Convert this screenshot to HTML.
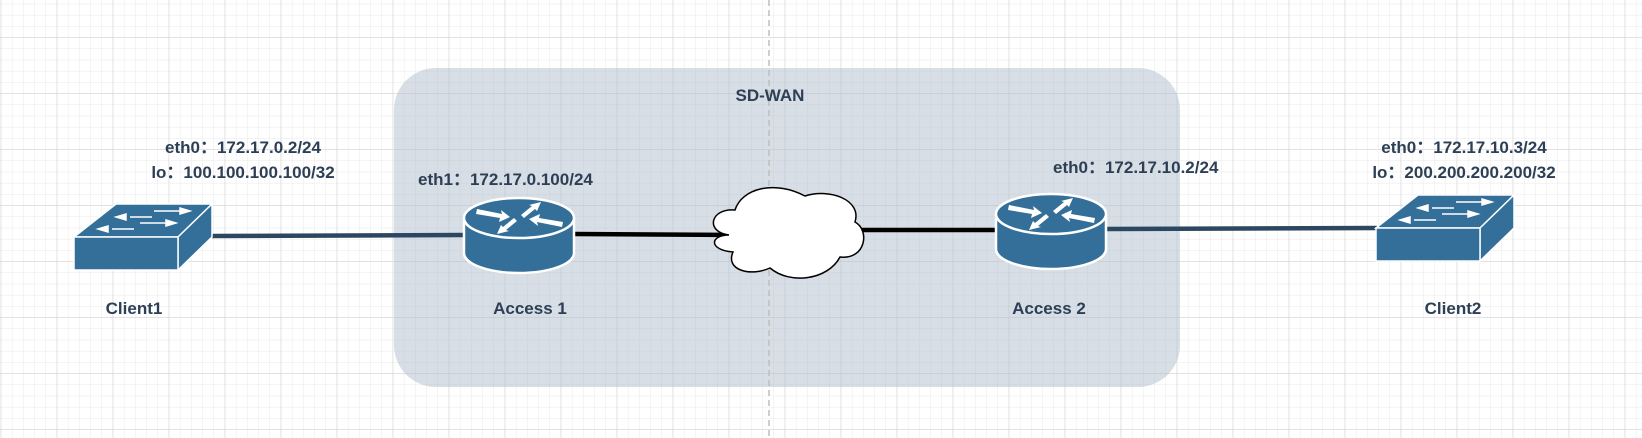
<!DOCTYPE html>
<html><head><meta charset="utf-8"><style>
html,body{margin:0;padding:0;width:1642px;height:438px;overflow:hidden;background:#fff}
svg{display:block}
text{font-family:"Liberation Sans",Arial,sans-serif;font-weight:bold;fill:#2d3f55;font-size:17px}
</style></head><body>
<svg width="1642" height="438" viewBox="0 0 1642 438" xmlns="http://www.w3.org/2000/svg">
<defs>
<pattern id="minor" x="0.7" y="37.3" width="11.2" height="11.2" patternUnits="userSpaceOnUse">
<path d="M0 0H11.2M0 0V11.2" stroke="#e8e8e8" stroke-width="1" fill="none"/>
</pattern>
<pattern id="major" x="0.7" y="37.3" width="56" height="56" patternUnits="userSpaceOnUse">
<path d="M0 0H56M0 0V56" stroke="#d0d0d0" stroke-width="1" fill="none"/>
</pattern>
<g id="router">
<path d="M0 20 V55 A55 20 0 0 0 110 55 V20" fill="#336f99" stroke="#fff" stroke-width="2.5"/>
<ellipse cx="55" cy="20" rx="55" ry="20" fill="#336f99" stroke="#fff" stroke-width="2.5"/>
<path d="M13 11 L38 16 L37 12 L46 19 L35 24 L36 20 L12 16Z" fill="#fff"/>
<path d="M98 29 L73 24 L74 28 L65 21 L76 16 L75 20 L99 24Z" fill="#fff"/>
<path d="M57 17 L68 8 L65 7 L77 4 L73 13 L71 11 L60 20Z" fill="#fff"/>
<path d="M53 23 L42 32 L45 33 L33 36 L37 27 L39 29 L50 20Z" fill="#fff"/>
</g>
<g id="switch">
<path d="M0 33 L42 0 H138 L104 33Z" fill="#336f99" stroke="#fff" stroke-width="1.5"/>
<path d="M104 33 L138 0 V33 L104 66Z" fill="#336f99" stroke="#fff" stroke-width="1.5"/>
<rect x="0" y="33" width="104" height="33" fill="#336f99" stroke="#fff" stroke-width="1.5"/>
<g stroke="#fff" stroke-width="1.5" fill="#fff">
<path d="M38 25 H60"/><path d="M24 25 L34 22 L34 28Z"/>
<path d="M56 13 H78"/><path d="M42 13 L52 10 L52 16Z"/>
<path d="M66 19 H94"/><path d="M102 19 L92 16 L92 22Z"/>
<path d="M80 7 H108"/><path d="M116 7 L106 4 L106 10Z"/>
</g>
</g>
</defs>
<rect width="1642" height="438" fill="url(#minor)"/>
<rect width="1642" height="438" fill="url(#major)"/>
<rect x="394" y="68" width="786" height="319" rx="42" fill="rgba(175,190,205,0.5)"/>
<line x1="769" y1="0" x2="769" y2="438" stroke="#bdbdbd" stroke-width="1.5" stroke-dasharray="6 4"/>

<line x1="212" y1="236" x2="464" y2="235" stroke="#2c4760" stroke-width="4.5"/>
<line x1="574" y1="234" x2="740" y2="235" stroke="#000" stroke-width="4.5"/>
<line x1="840" y1="230" x2="996" y2="230" stroke="#000" stroke-width="4.5"/>
<line x1="1106" y1="229" x2="1377" y2="228" stroke="#2c4760" stroke-width="4.5"/>

<path d="M729 235 C705 232 710 208 735 210 C742 188 775 180 805 196 C830 188 862 200 855 222 C870 230 866 260 840 257 C828 280 790 285 770 268 C750 277 725 270 733 252 C708 250 710 235 729 235Z" fill="#fff" stroke="#000" stroke-width="1.5"/>

<use href="#router" x="464" y="198"/>
<use href="#router" x="996" y="194"/>
<use href="#switch" x="74" y="204"/>
<use href="#switch" x="1376" y="195"/>

<text x="770" y="101" text-anchor="middle">SD-WAN</text>
<text x="243" y="153" text-anchor="middle">eth0：172.17.0.2/24</text>
<text x="243" y="178" text-anchor="middle">lo：100.100.100.100/32</text>
<text x="418" y="185">eth1：172.17.0.100/24</text>
<text x="1053" y="173">eth0：172.17.10.2/24</text>
<text x="1464" y="153" text-anchor="middle">eth0：172.17.10.3/24</text>
<text x="1464" y="178" text-anchor="middle">lo：200.200.200.200/32</text>
<text x="134" y="314" text-anchor="middle">Client1</text>
<text x="530" y="314" text-anchor="middle">Access 1</text>
<text x="1049" y="314" text-anchor="middle">Access 2</text>
<text x="1453" y="314" text-anchor="middle">Client2</text>
</svg>
</body></html>
